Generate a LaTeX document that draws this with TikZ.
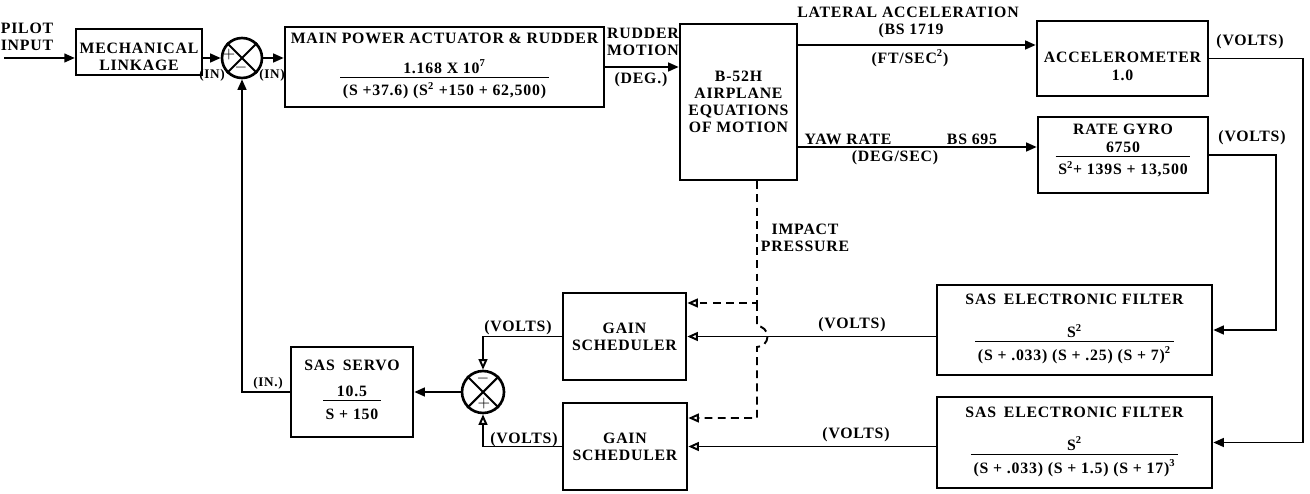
\documentclass[tikz,border=0pt]{standalone}
\usepackage{fontspec}
\setmainfont[LetterSpace=5]{Liberation Serif}
\usetikzlibrary{arrows.meta}
% transfer function: numerator over a ruled denominator
\newcommand{\trf}[2]{\begin{tabular}{@{\,}c@{\,}}#1\\[-1pt]\hline\rule{0pt}{10.5pt}#2\end{tabular}}
\newcommand{\sq}{\textsuperscript{2}}
\begin{document}
\begin{tikzpicture}[x=0.02cm, y=-0.02cm,
    font=\fontsize{9}{9.8}\selectfont\bfseries,
    line width=1.1pt, >={Triangle[length=6pt,width=5pt]},
    blk/.style={draw, line width=1.5pt, align=center, inner sep=2pt},
    sumj/.style={draw, circle, line width=1.5pt, minimum size=0.8cm, inner sep=0pt},
    oarr/.style={-{Triangle[open,length=6pt,width=5pt]}},
    lbl/.style={inner sep=1pt, align=center},
    sml/.style={inner sep=1pt, font=\fontsize{7.5}{8.5}\selectfont\bfseries}]
  \useasboundingbox (0,0) rectangle (1310,493);

  % forward path
  \coordinate (pin) at (4,58);
  \node[blk, minimum width=2.44cm, minimum height=0.92cm] (mech) at (139,52) {\rule{0pt}{11.5pt}MECHANICAL\\LINKAGE};
  \node[sumj] (sum1) at (242,58) {};
  \draw[line width=1.2pt] (sum1.north west) -- (sum1.south east) (sum1.north east) -- (sum1.south west);
  \node[inner sep=0pt] at (229,55) {$+$};
  \node[inner sep=0pt] at (241,68) {$-$};
  \node[blk, minimum width=6.38cm, minimum height=1.6cm] (act) at (444.5,67)
    {MAIN POWER ACTUATOR \& RUDDER\\[8pt]\trf{1.168 X 10\textsuperscript{7}}{(S +37.6) (S\sq{} +150 + 62,500)}};
  \node[blk, minimum width=2.34cm, minimum height=3.12cm] (plane) at (738.5,102)
    {B-52H\\AIRPLANE\\EQUATIONS\\OF MOTION};

  % sensors
  \node[blk, minimum width=3.42cm, minimum height=1.5cm] (acc) at (1122.5,58.5) {\rule{0pt}{15pt}ACCELEROMETER\\1.0};
  \node[blk, minimum width=3.4cm, minimum height=1.52cm] (gyro) at (1123,155)
    {\trf{RATE GYRO\\6750}{S\sq+ 139S + 13,500\rule[-7pt]{0pt}{7pt}}};

  % filters and schedulers
  \node[blk, minimum width=5.5cm, minimum height=1.8cm] (filt1) at (1074.5,330)
    {SAS\enspace ELECTRONIC FILTER\\[10pt]\trf{S\sq}{(S + .033) (S + .25) (S + 7)\sq}};
  \node[blk, minimum width=5.5cm, minimum height=1.82cm] (filt2) at (1074.5,442.5)
    {SAS\enspace ELECTRONIC FILTER\\[10pt]\trf{S\sq}{(S + .033) (S + 1.5) (S + 17)\textsuperscript{3}}};
  \node[blk, minimum width=2.46cm, minimum height=1.74cm] (gs1) at (624.5,336.5) {GAIN\\SCHEDULER};
  \node[blk, minimum width=2.48cm, minimum height=1.74cm] (gs2) at (625,446.5) {GAIN\\SCHEDULER};
  \node[sumj, minimum size=0.84cm] (sum2) at (483,392) {};
  \draw[line width=1.2pt] (sum2.north west) -- (sum2.south east) (sum2.north east) -- (sum2.south west);
  \node[inner sep=0pt] at (483,379) {$-$};
  \node[inner sep=0pt] at (484,404) {$+$};
  \node[blk, minimum width=2.44cm, minimum height=1.8cm] (servo) at (352,392)
    {SAS\enspace SERVO\\[7pt]\trf{10.5}{S + 150}};

  % connectors
  \draw[->] (pin) -- (pin -| mech.west);
  \draw[->] (sum1.west -| mech.east) -- (sum1.west);
  \draw[->] (sum1.east) -- (sum1.east -| act.west);
  \draw[->] (act.east) -- (act.east -| plane.west);
  \draw[->] (plane.east |- 0,45) -- (acc.west |- 0,45);
  \draw[->] (plane.east |- 0,147) -- (gyro.west |- 0,147);
  \draw[->] (acc.east) -- ++(94,0) |- (filt2.east);
  \draw[->] (gyro.east) -- ++(67,0) |- (filt1.east);
  \draw[oarr] (gs1.east -| filt1.west) -- (gs1.east);
  \draw[oarr] (gs2.east -| filt2.west) -- (gs2.east);
  \draw[oarr] (gs1.west) -| (sum2.north);
  \draw[oarr] (gs2.west) -| (sum2.south);
  \draw[->] (sum2.west) -- (sum2.west -| servo.east);
  \draw[->] (servo.west) -| (sum1.south);

  % impact pressure, hopping over the filter line
  \coordinate (ip) at (757,303);
  \coordinate (ip2) at (757,418);
  \draw[dash pattern=on 4.5pt off 3pt, oarr] (plane.south -| ip) -- (ip) -- (ip -| gs1.east);
  \draw[dash pattern=on 4.5pt off 3pt, oarr] (ip) -- ++(0,23)
    arc[start angle=-90, end angle=90, radius=10.5] -- (ip2) -- (ip2 -| gs2.east);

  % signal labels
  \node[lbl, align=left] at (27,37) {PILOT\\INPUT};
  \node[sml] at (212,75) {(IN)};
  \node[sml] at (272,75) {(IN)};
  \node[lbl] at (643,42) {RUDDER\\MOTION};
  \node[lbl] at (641,80) {(DEG.)};
  \node[lbl] at (908,12) {LATERAL ACCELERATION};
  \node[lbl] at (911,31) {(BS 1719};
  \node[lbl] at (910,58) {(FT/SEC\sq)};
  \node[lbl] at (848,139) {YAW RATE};
  \node[lbl] at (972,139) {BS 695};
  \node[lbl] at (895,158) {(DEG/SEC)};
  \node[lbl] at (1250,42) {(VOLTS)};
  \node[lbl] at (1252,138) {(VOLTS)};
  \node[lbl] at (805,238) {IMPACT\\PRESSURE};
  \node[lbl] at (852,325) {(VOLTS)};
  \node[lbl] at (856,435) {(VOLTS)};
  \node[lbl] at (518,328) {(VOLTS)};
  \node[lbl] at (524,440) {(VOLTS)};
  \node[sml] at (268,383) {(IN.)};
\end{tikzpicture}
\end{document}
